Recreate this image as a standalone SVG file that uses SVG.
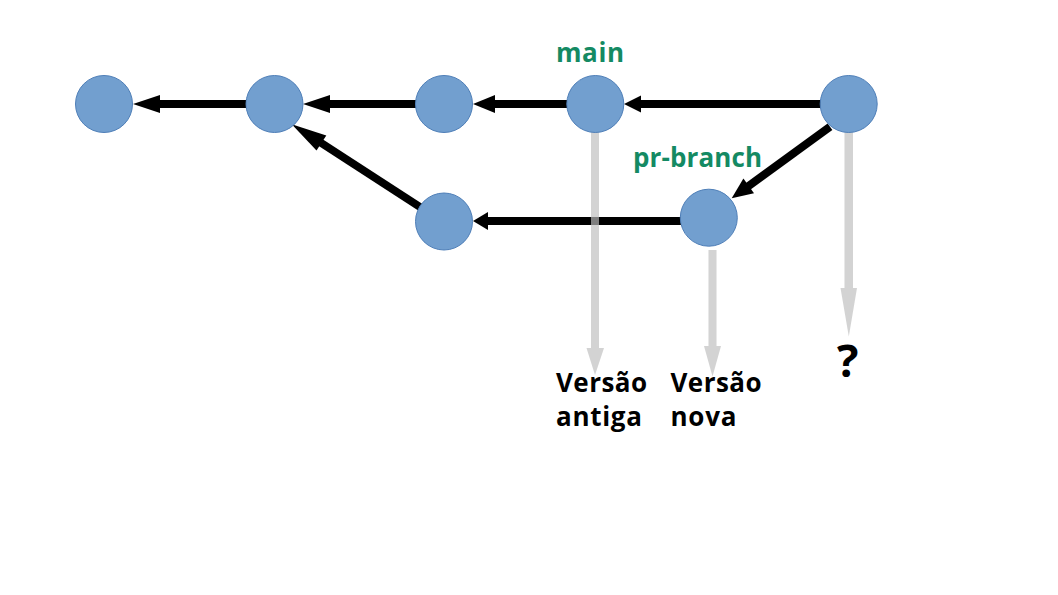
<svg xmlns="http://www.w3.org/2000/svg" width="1058" height="595" viewBox="0 0 1058 595">
<style>
.node{fill:#729fcf;stroke:#4f7fb8;stroke-width:1}
.shaft{stroke:#000;stroke-width:8;fill:none}
.head{fill:#000}
.gray{fill:#bebebe;fill-opacity:0.67}
.lbl{font-family:"Open Sans","Noto Sans",sans-serif;font-weight:bold;font-size:26px;fill:#148a63}
.txt{font-family:"Open Sans","Noto Sans",sans-serif;font-weight:bold;font-size:26px;fill:#000}
</style>
<rect width="1058" height="595" fill="#fff"/>
<g id="connectors">
<line class="shaft" x1="246" y1="104" x2="159" y2="104"/>
<polygon class="head" points="133,104 160,95 160,113"/>
<line class="shaft" x1="416" y1="104" x2="329" y2="104"/>
<polygon class="head" points="303,104 330,95 330,113"/>
<line class="shaft" x1="567" y1="104" x2="494" y2="104"/>
<polygon class="head" points="473,104 495,95 495,113"/>
<line class="shaft" x1="821" y1="104" x2="640" y2="104"/>
<polygon class="head" points="624,104 641,95.5 641,112.5"/>
<line class="shaft" x1="681" y1="221" x2="487" y2="221"/>
<polygon class="head" points="473,221 488,212 488,230"/>
<line class="shaft" x1="430" y1="213.5" x2="320.5" y2="142.5"/>
<polygon class="head" points="291.7,124.3 326.3,135.4 316.5,150.6"/>
<line class="shaft" x1="830" y1="126.7" x2="747.9" y2="186.5"/>
<polygon class="head" points="731.7,198.3 754,193.2 743.4,178.6"/>
<path class="gray" d="M591,132 H599 V348 H604 L595,375 L586.5,348 H591 Z"/>
<path class="gray" d="M708.5,250 H716.5 V346 H721 L712.5,376.5 L704,346 H708.5 Z"/>
<path class="gray" d="M844.5,132 H853 V288 H857 L848.8,336.5 L840.5,288 H844.5 Z"/>
</g>
<g id="n1"><circle class="node" cx="104" cy="104" r="28.5"/></g>
<g id="n2"><circle class="node" cx="274.5" cy="104" r="28.5"/></g>
<g id="n3"><circle class="node" cx="444" cy="104" r="28.5"/></g>
<g id="n4"><circle class="node" cx="595.3" cy="104" r="28.5"/></g>
<g id="n5"><circle class="node" cx="848.7" cy="104" r="28.5"/></g>
<g id="n6"><circle class="node" cx="444" cy="221.5" r="28.5"/></g>
<g id="n7"><circle class="node" cx="708.8" cy="217.7" r="28.5"/></g>
<g id="labels">
<text class="lbl" x="556" y="62" textLength="68" lengthAdjust="spacing">main</text>
<text class="lbl" x="633" y="167" textLength="129" lengthAdjust="spacing">pr-branch</text>
<text class="txt" x="556" y="392" textLength="91" lengthAdjust="spacing">Versão</text>
<text class="txt" x="556" y="425.5" textLength="86" lengthAdjust="spacing">antiga</text>
<text class="txt" x="670.5" y="392" textLength="91" lengthAdjust="spacing">Versão</text>
<text class="txt" x="670.5" y="425.5" textLength="66" lengthAdjust="spacing">nova</text>
<text class="txt" x="837" y="377" style="font-size:45px">?</text>
</g>
</svg>
